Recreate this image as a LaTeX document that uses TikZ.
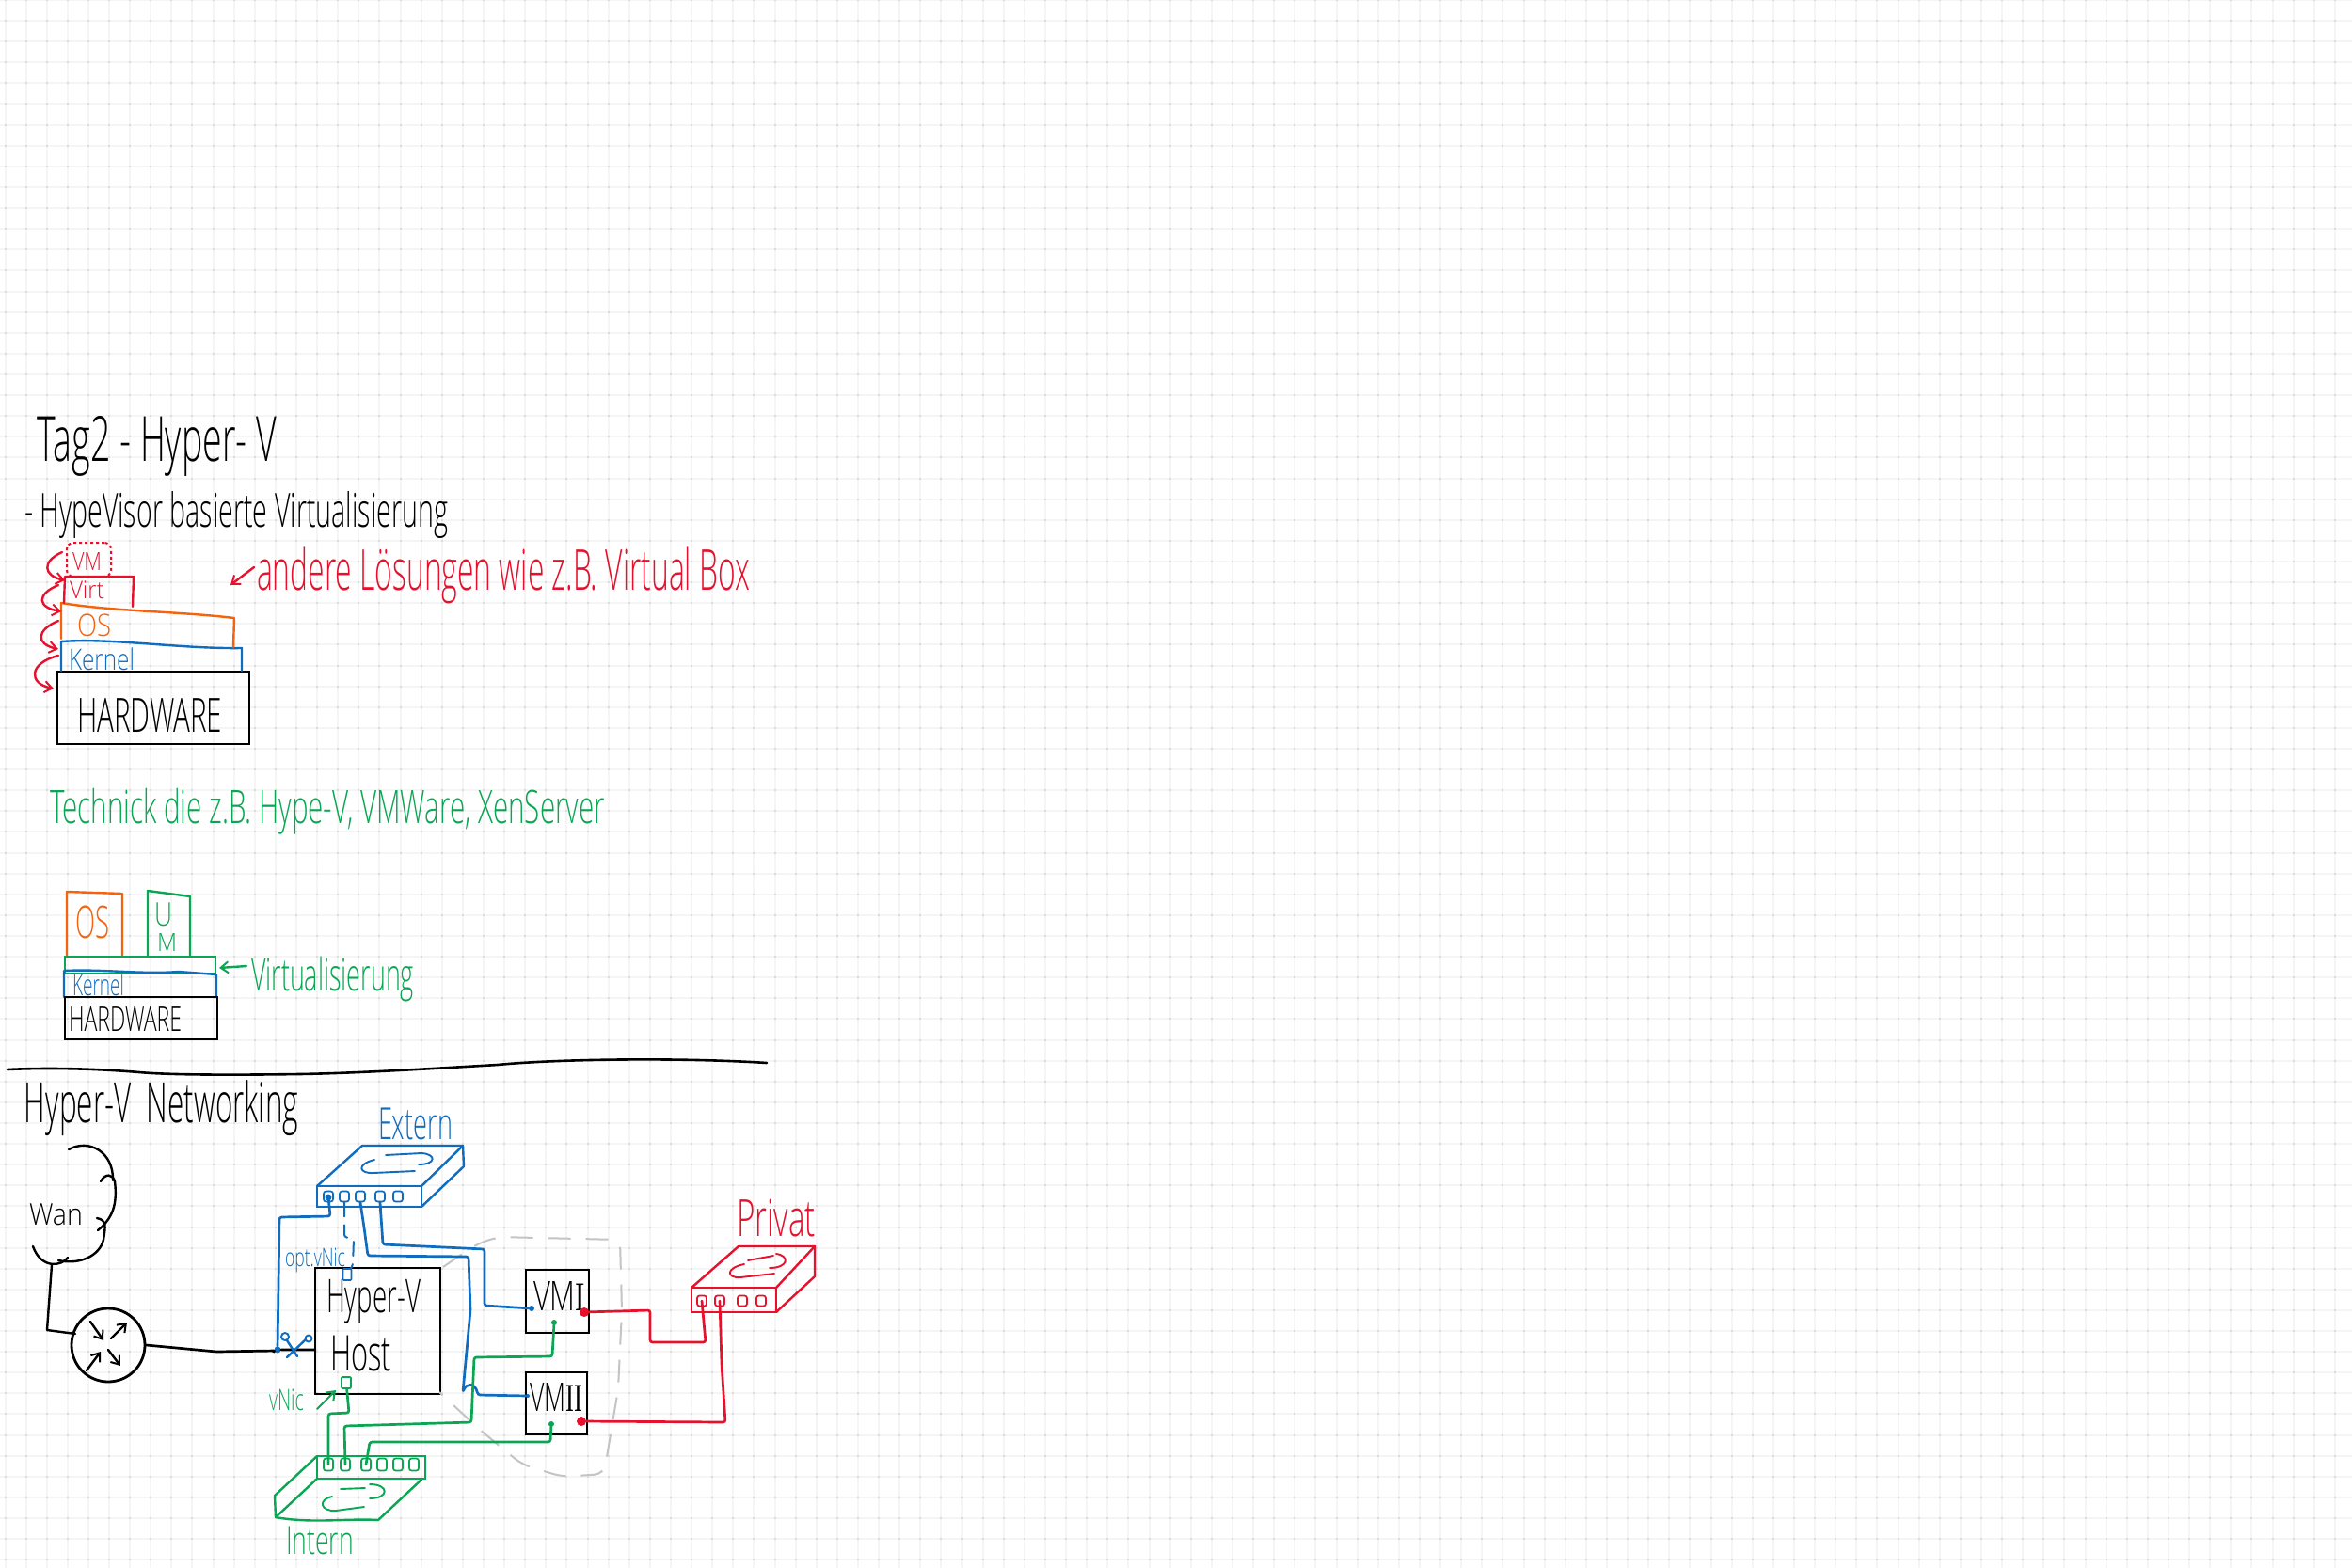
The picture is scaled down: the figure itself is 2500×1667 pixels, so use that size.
\documentclass[tikz,border=0pt]{standalone}
\usepackage{fontspec}
\usepackage{graphicx}
\setmainfont{Open Sans Light}
\newfontfamily\numfont{Liberation Serif}
\usetikzlibrary{arrows.meta}
\definecolor{inkred}{HTML}{E8112D}
\definecolor{inkorange}{HTML}{F7630C}
\definecolor{inkblue}{HTML}{0F6CBF}
\definecolor{inkgreen}{HTML}{0BA654}
\definecolor{gridline}{HTML}{F5F5F5}
\definecolor{griddot}{HTML}{DCDCDC}
\definecolor{hullgrey}{HTML}{C4C4C4}
\newcommand{\hw}[3]{\resizebox*{#1pt}{#2pt}{#3}}
\tikzset{
  txt/.style={inner sep=0pt,outer sep=0pt,anchor=north west},
  ink/.style={line width=2.4pt,line cap=round,line join=round},
  thin ink/.style={line width=1.9pt,line cap=round,line join=round},
  wire/.style={line width=2.7pt,line cap=round,line join=round,rounded corners=2.5pt},
  solidbox/.style={draw,line width=2.8pt,inner sep=0pt,outer sep=0pt,anchor=north west},
  port/.style={draw,rectangle,rounded corners=2.5pt,line width=1.7pt,inner sep=0pt,minimum width=10pt,minimum height=11pt},
  pin/.style={circle,fill,inner sep=0pt,minimum size=7pt},
  barb/.style={-{Straight Barb[length=8pt,width=12pt,line width=2pt]}},
}
\begin{document}
\begin{tikzpicture}[x=1pt,y=-1pt]
\useasboundingbox (0,0) rectangle (2500,1667);
\fill[white] (0,0) rectangle (2500,1667);
% paper grid
\foreach \i in {0,...,113}
  \draw[gridline,line width=2pt] ({5.5+22.11*\i},0) -- ({5.5+22.11*\i},1667);
\foreach \j in {0,...,75}
  \draw[gridline,line width=2pt] (0,{22.11*\j}) -- (2500,{22.11*\j});
\foreach \i in {0,...,113}
  \draw[griddot,line width=2pt,dash pattern=on 2pt off 20.11pt] ({5.5+22.11*\i},-1) -- ({5.5+22.11*\i},1667);

% headings
\node[txt] (title) at (40,442) {\hw{254}{64}{Tag2 - Hyper- V}};
\node[txt] (sub) at (26,522) {\hw{450}{50}{- HypeVisor basierte Virtualisierung}};

% first stack
\node[solidbox,minimum width=204pt,minimum height=77pt] (hwa) at (61,714) {};
\node[txt] (hwatext) at (82,742) {\hw{154}{36}{HARDWARE}};
\draw[inkblue,ink] (65,713) -- (65,682) .. controls (120,678) and (190,690) .. (257,689) -- (257,713);
\node[txt,text=inkblue] (kernela) at (73,689) {\hw{70}{24}{Kernel}};
\draw[inkorange,ink] (65,679) -- (65,641) .. controls (120,650) and (190,650) .. (249,657) -- (248,688);
\node[txt,text=inkorange] (osa) at (82,653) {\hw{36}{24}{OS}};
\draw[inkred,ink] (68,641) -- (69,613) -- (142,613) -- (141,645);
\node[txt,text=inkred] (virt) at (74,618) {\hw{37}{19}{Virt}};
\node[txt,draw=inkred,line width=2pt,dashed,rounded corners=7pt,minimum width=47pt,minimum height=36pt] (vma) at (71,577) {};
\node[txt,text=inkred] (vmatext) at (77,587) {\hw{31}{19}{VM}};
\draw[inkred,ink,barb] (66,587) .. controls (44,597) and (46,612) .. (69,617);
\draw[inkred,ink,barb] (62,622) .. controls (38,632) and (40,646) .. (65,650);
\draw[inkred,ink,barb] (62,660) .. controls (38,670) and (38,685) .. (62,690);
\draw[inkred,ink,barb] (62,697) .. controls (30,705) and (30,727) .. (57,732);
\coordinate (redtail) at (270,603);
\coordinate (redtip) at (245,622);
\draw[inkred,ink,barb] (redtail) -- (redtip);
\node[txt,text=inkred] (other) at (273,582) {\hw{524}{60}{andere Lösungen wie z.B. Virtual Box}};

% green text
\node[txt,text=inkgreen] (tech) at (53,838) {\hw{590}{49}{Technick die z.B. Hype-V, VMWare, XenServer}};

% second stack
\draw[inkorange,ink] (71,1017) -- (71,948) -- (130,950) -- (130,1017);
\node[txt,text=inkorange] (osb) at (80,963) {\hw{36}{35}{OS}};
\draw[inkgreen,ink] (157,1017) -- (157,947) -- (202,953) -- (202,1017);
\node[txt,text=inkgreen] (ub) at (164,960) {\hw{19}{25}{U}};
\node[txt,text=inkgreen] (mb) at (167,992) {\hw{21}{19}{M}};
\node[txt,draw=inkgreen,line width=2.4pt,minimum width=160pt,minimum height=18pt] (virtlayer) at (69,1017) {};
\draw[inkblue,ink] (68,1060) -- (68,1032) .. controls (110,1030) and (150,1036) .. (190,1033) -- (230,1036) -- (230,1060);
\node[txt,text=inkblue] (kernelb) at (77,1035) {\hw{55}{24}{Kernel}};
\node[solidbox,minimum width=162pt,minimum height=45pt] (hwb) at (69,1060) {};
\node[txt] (hwbtext) at (73,1070) {\hw{120}{26}{HARDWARE}};
\node[txt,text=inkgreen] (virtlabel) at (267,1017) {\hw{173}{48}{Virtualisierung}};
\coordinate (vltail) at (262,1027);
\coordinate (vltip) at (233,1029);
\draw[inkgreen,ink,barb] (vltail) -- (vltip);

% divider
\draw[line width=2.6pt,line cap=round] (8,1137) .. controls (50,1135) and (100,1136) .. (148,1140) .. controls (180,1143) and (250,1143) .. (318,1142) .. controls (380,1141) and (460,1136) .. (529,1132) .. controls (590,1126) and (720,1124) .. (815,1130);

% networking heading
\node[txt] (nethead) at (26,1149) {\hw{291}{59}{Hyper-V\ \ Networking}};

% cloud
\node[txt] (wan) at (31,1280) {\hw{57}{23}{Wan}};
\coordinate (cloudbase) at (55,1345);
\draw[ink] (73,1222) .. controls (95,1210) and (121,1225) .. (120,1255);
\draw[ink] (107,1256) .. controls (112,1247) and (120,1248) .. (122,1256) .. controls (125,1280) and (120,1295) .. (104,1308);
\draw[ink] (103,1295) .. controls (114,1297) and (112,1305) .. (110,1318) .. controls (106,1335) and (85,1345) .. (62,1340);
\draw[ink] (72,1337) .. controls (66,1346) and (44,1350) .. (35,1325);
\draw[ink] (cloudbase) -- (50,1414) -- (80,1418);

% router
\node[draw,circle,line width=2.8pt,minimum size=78pt,inner sep=0pt] (router) at (115,1430) {};
\draw[ink,barb] (96,1405) -- (110,1425);
\draw[ink,barb] (118,1423) -- (135,1406);
\draw[ink,barb] (92,1457) -- (107,1437);
\draw[ink,barb] (115,1435) -- (128,1452);

% Hyper-V host
\node[solidbox,minimum width=133pt,minimum height=134pt] (host) at (335,1348) {};
\node[txt] (hostone) at (347,1360) {\hw{100}{47}{Hyper-V}};
\node[txt] (hosttwo) at (351,1420) {\hw{65}{38}{Host}};

% virtual machines
\node[solidbox,minimum width=67pt,minimum height=67pt] (vmone) at (559,1350) {};
\node[solidbox,minimum width=65pt,minimum height=66pt] (vmtwo) at (559,1459) {};
\node[txt] (vmonetext) at (567,1362) {\hw{55}{31}{VM{\numfont I}}};
\node[txt] (vmtwotext) at (563,1470) {\hw{56}{30}{VM{\numfont II}}};

% grey hull
\draw[hullgrey,line width=2pt,dash pattern=on 24pt off 16pt,rounded corners=10pt] (471,1347) -- (506,1323) -- (529,1315) -- (659,1318) -- (661,1393) -- (657,1477) -- (647,1537) -- (642,1567) -- (598,1570) -- (555,1557) -- (510,1520) -- (467,1480);

% Extern switch
\draw[inkblue,ink] (337,1261) -- (385,1218) -- (492,1218) -- (448,1261);
\draw[inkblue,ink] (492,1218) -- (493,1240) -- (448,1283);
\node[txt,draw=inkblue,line width=2.4pt,minimum width=111pt,minimum height=22pt] (extern) at (337,1261) {};
\draw[inkblue,thin ink] (410,1228) -- (448,1226) .. controls (464,1227) and (464,1238) .. (445,1238);
\draw[inkblue,thin ink] (398,1233) .. controls (378,1238) and (382,1248) .. (397,1247) -- (441,1245);
\node[txt,text=inkblue] (externtext) at (402,1178) {\hw{79}{34}{Extern}};
\node[port,draw=inkblue] (ea) at (349,1272) {};
\node[port,draw=inkblue] (eb) at (366,1272) {};
\node[port,draw=inkblue] (ec) at (383,1272) {};
\node[port,draw=inkblue] (ed) at (404,1272) {};
\node[port,draw=inkblue] (ee) at (423,1272) {};
\node[pin,fill=inkblue] (eapin) at (349,1273) {};

% Intern switch
\draw[inkgreen,ink] (337,1548) -- (292,1590) -- (293,1613) .. controls (330,1620) and (370,1614) .. (402,1616) -- (448,1573);
\draw[inkgreen,ink] (293,1613) -- (337,1572);
\node[txt,draw=inkgreen,line width=2.4pt,minimum width=115pt,minimum height=24pt] (intern) at (337,1548) {};
\draw[inkgreen,thin ink] (362,1583) -- (388,1582);
\draw[inkgreen,thin ink] (393,1578) .. controls (414,1578) and (414,1593) .. (393,1593);
\draw[inkgreen,thin ink] (353,1591) .. controls (338,1594) and (340,1607) .. (357,1606) -- (387,1602);
\node[txt,text=inkgreen] (interntext) at (304,1623) {\hw{72}{30}{Intern}};
\node[port,draw=inkgreen,minimum height=13pt] (ia) at (349,1557) {};
\node[port,draw=inkgreen,minimum height=13pt] (ib) at (367,1557) {};
\node[port,draw=inkgreen,minimum height=13pt] (ic) at (389,1557) {};
\node[port,draw=inkgreen,minimum height=13pt] (id) at (406,1557) {};
\node[port,draw=inkgreen,minimum height=13pt] (ie) at (423,1557) {};
\node[port,draw=inkgreen,minimum height=13pt] (if) at (440,1557) {};

% Privat switch
\draw[inkred,ink] (735,1369) -- (785,1325) -- (866,1325) -- (825,1369);
\draw[inkred,ink] (866,1325) -- (866,1357) -- (825,1395);
\node[txt,draw=inkred,line width=2.4pt,minimum width=90pt,minimum height=26pt] (privat) at (735,1369) {};
\draw[inkred,thin ink] (795,1340) -- (822,1335);
\draw[inkred,thin ink] (825,1333) .. controls (840,1335) and (838,1348) .. (818,1348);
\draw[inkred,thin ink] (791,1344) .. controls (771,1348) and (772,1359) .. (787,1358) -- (823,1354);
\node[txt,text=inkred] (privattext) at (783,1275) {\hw{84}{40}{Privat}};
\node[port,draw=inkred] (pa) at (746,1383) {};
\node[port,draw=inkred] (pb) at (765,1383) {};
\node[port,draw=inkred] (pc) at (789,1383) {};
\node[port,draw=inkred] (pd) at (809,1383) {};

% host adapters and pins on the machines
\node[port,draw=inkblue,minimum width=9pt,minimum height=12pt,rounded corners=1pt] (optnic) at (369,1355) {};
\node[port,draw=inkgreen,minimum width=10pt,minimum height=12pt,rounded corners=1pt] (vnic) at (368,1470) {};
\node[pin,fill=inkblue] (tap) at (295,1435) {};
\node[pin,fill=inkblue,minimum size=6pt] (vmoneblue) at (565,1391) {};
\node[pin,fill=inkblue,minimum size=4pt] (vmtwoblue) at (561,1484) {};
\node[pin,fill=inkgreen,minimum size=6pt] (vmonegreen) at (589,1406) {};
\node[pin,fill=inkgreen,minimum size=6pt] (vmtwogreen) at (586,1514) {};
\node[pin,fill=inkred,minimum size=10pt] (vmonered) at (621,1395) {};
\node[pin,fill=inkred,minimum size=10pt] (vmtwored) at (618,1511) {};

% uplink
\draw[wire] (router.east) -- (230,1437) -- (293,1436) -- (tap) -- (host.west |- tap);

% blue connectors
\draw[wire,inkblue] (ea.center) -- (351,1293) -- (297,1294) -- (tap);
\draw[wire,inkblue,line width=2pt,dash pattern=on 15pt off 9pt] (eb.south) -- (366,1315) -- (376,1317) -- (375,1345) -- (optnic);
\draw[wire,inkblue] (ec.south) -- (387,1305) -- (391,1335) -- (498,1336) -- (500,1393) -- (492,1480) .. controls (496,1470) and (505,1470) .. (508,1483) -- (vmtwoblue);
\draw[wire,inkblue] (ed.south) -- (407,1323) -- (515,1328) -- (515,1388) -- (vmoneblue);

% green connectors
\draw[wire,inkgreen] (vnic) -- (371,1502) -- (349,1503) -- (ia.center);
\draw[wire,inkgreen] (vmonegreen) -- (587,1442) -- (504,1443) -- (501,1512) -- (366,1516) -- (ib.center);
\draw[wire,inkgreen] (vmtwogreen) -- (585,1533) -- (393,1533) -- (ic.center);

% red connectors
\draw[wire,inkred] (vmonered) -- (691,1393) -- (691,1427) -- (750,1427) -- (pa.center);
\draw[wire,inkred] (vmtwored) -- (771,1512) -- (767,1450) -- (pb.center);

% scissors
\coordinate (cuta) at (305,1443);
\coordinate (cutb) at (325,1424);
\coordinate (cutc) at (316,1442);
\coordinate (cutd) at (305,1425);
\draw[inkblue,ink] (cuta) -- (cutb);
\draw[inkblue,ink] (cutc) -- (cutd);
\draw[inkblue,thin ink] (328,1423) circle (3.5pt);
\draw[inkblue,thin ink] (303,1421) circle (4pt);

% adapter labels
\node[txt,text=inkblue] (opt) at (303,1327) {\hw{64}{26}{opt.vNic}};
\node[txt,text=inkgreen] (vniclabel) at (286,1477) {\hw{37}{23}{vNic}};
\coordinate (vnictail) at (337,1498);
\coordinate (vnictip) at (357,1478);
\draw[inkgreen,thin ink,barb] (vnictail) -- (vnictip);
\end{tikzpicture}
\end{document}
